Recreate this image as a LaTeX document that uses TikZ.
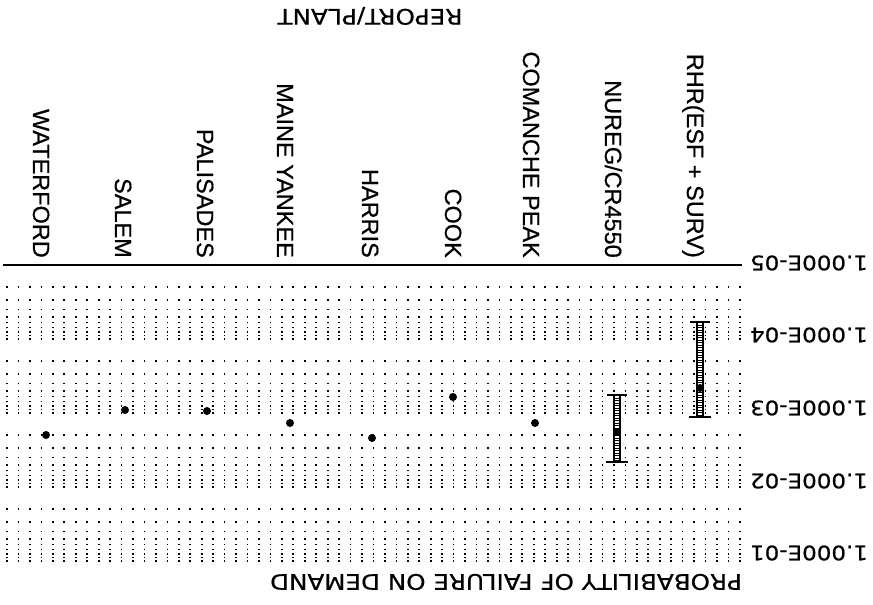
\documentclass[tikz,border=0pt]{standalone}
\usepackage{fontspec}
\setmainfont{Liberation Sans}[FakeBold=0.6]
\newfontfamily\axisfont{DejaVu Sans}[FakeStretch=1.15,FakeBold=0.6]

\begin{document}
\begin{tikzpicture}[x=1pt,y=-1pt,
	plant/.style={rotate=-90,anchor=base east,inner sep=0pt,font=\fontsize{23.5}{23.5}\selectfont},
	axistitle/.style={rotate=180,inner sep=0pt,font=\axisfont\fontsize{21.4}{21.4}\selectfont},
	ticklabel/.style={rotate=180,inner sep=0pt,font=\axisfont\fontsize{20}{20}\selectfont},
	datum/.style={shape=circle,fill,inner sep=0pt,minimum size=8pt},
	gridrow/.style={line width=1.7pt,dash pattern=on 1.7pt off 9.75pt},
	rails/.style={line width=1.4pt,double=white,double distance=4.6pt},
	rungs/.style={line width=4.6pt,dash pattern=on 1pt off 1.5pt},
	whisker/.style={line width=2.8pt}]
	\useasboundingbox (0,0) rectangle (873,605);

	\foreach \d in {0,...,3}
		\foreach \m in {2,...,10}
			\draw[gridrow] (6.2,{265+74*\d+74*log10(\m)}) -- (742,{265+74*\d+74*log10(\m)});
	\draw[line width=1.5pt] (3,265) -- (742,265);

	\node [ticklabel] (t5) at (809,263) {1.000E-05};
	\node [ticklabel] (t4) at (809,335) {1.000E-04};
	\node [ticklabel] (t3) at (809,408) {1.000E-03};
	\node [ticklabel] (t2) at (809,481) {1.000E-02};
	\node [ticklabel] (t1) at (809,553) {1.000E-01};
	\node [axistitle] (report) at (370,16) {REPORT/PLANT};
	\node [axistitle] (prob) at (506,582) {PROBABILITY OF FAILURE ON DEMAND};

	\node [plant] (lwaterford) at (33,258) {WATERFORD};
	\node [plant] (lsalem) at (115,258) {SALEM};
	\node [plant] (lpalisades) at (197,258) {PALISADES};
	\node [plant] (lmaine) at (277,258) {MAINE YANKEE};
	\node [plant] (lharris) at (362,258) {HARRIS};
	\node [plant] (lcook) at (445,258) {COOK};
	\node [plant] (lcomanche) at (523,258) {COMANCHE PEAK};
	\node [plant] (lnureg) at (605,258) {NUREG/CR4550};
	\node [plant] (lrhr) at (687,258) {RHR(ESF + SURV)};

	\node [datum] (waterford) at (46,435) {};
	\node [datum] (salem) at (125,410) {};
	\node [datum] (palisades) at (207,411) {};
	\node [datum] (maine) at (290,423) {};
	\node [datum] (harris) at (372,438) {};
	\node [datum] (cook) at (453,397) {};
	\node [datum] (comanche) at (535,423) {};
	\node [datum] (nureg) at (617,432) {};
	\node [datum] (rhr) at (700,388) {};

	\coordinate (nureg lo) at (617,395);
	\coordinate (nureg hi) at (617,462);
	\coordinate (rhr lo) at (700,322);
	\coordinate (rhr hi) at (700,417);
	\draw[rails] (nureg lo) -- (nureg hi);
	\draw[rungs] (nureg lo) -- (nureg hi);
	\draw[rails] (rhr lo) -- (rhr hi);
	\draw[rungs] (rhr lo) -- (rhr hi);
	\draw[whisker] ([xshift=-10pt]nureg lo) -- ([xshift=10pt]nureg lo);
	\draw[whisker] ([xshift=-11pt]nureg hi) -- ([xshift=11pt]nureg hi);
	\draw[whisker] ([xshift=-10pt]rhr lo) -- ([xshift=10pt]rhr lo);
	\draw[whisker] ([xshift=-11pt]rhr hi) -- ([xshift=11pt]rhr hi);
	\node [datum] at (nureg) {};
	\node [datum] at (rhr) {};
\end{tikzpicture}
\end{document}
